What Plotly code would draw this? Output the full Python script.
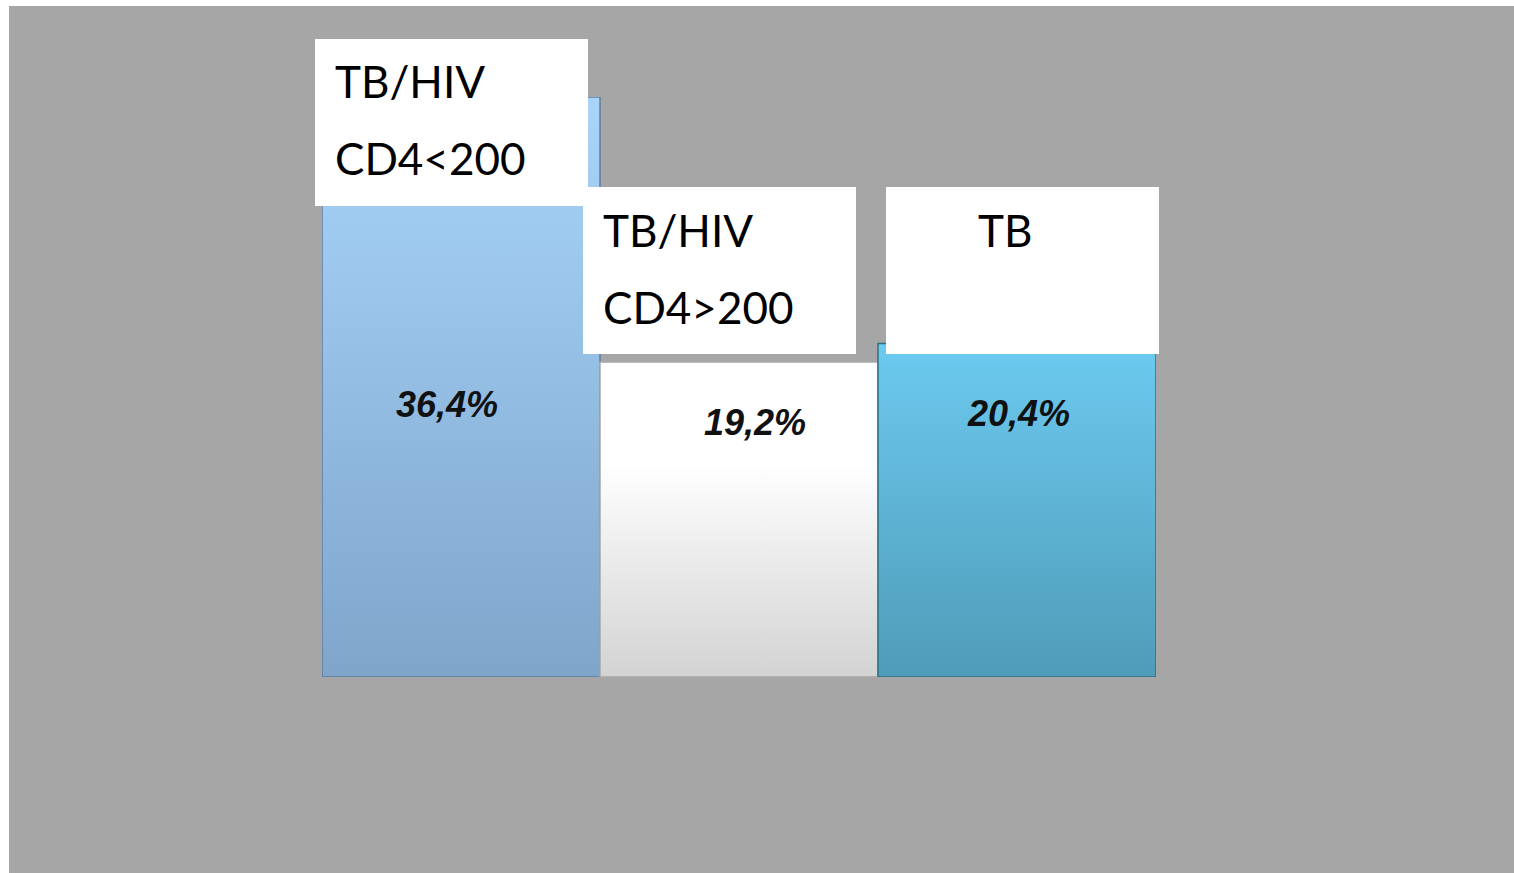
import plotly.graph_objects as go

# data
categories = ["TB/HIV CD4<200", "TB/HIV CD4>200", "TB"]
values = [36.4, 19.2, 20.4]
value_labels = ["36,4%", "19,2%", "20,4%"]
box_lines = [["TB/HIV", "CD4<200"], ["TB/HIV", "CD4>200"], ["TB"]]

# styling
top_colors = ["#A9D5FB", "#FFFFFF", "#6CCAF0"]
bottom_colors = ["#7FA5CB", "#D3D3D3", "#4F9CB8"]
mid_stops = [None, 0.68, None]
edge_colors = ["#5F7E9E", "#A8A8A8", "#2F6E85"]

W, H = 1514, 873
L, R, T, B = 322, 358, 97, 196
PW, PH = W - L - R, H - T - B
BASE = -1.24


def px(x):
    return (x - L) / PW


def py(y):
    return (H - B - y) / PH


fig = go.Figure()

for i, v in enumerate(values):
    if mid_stops[i] is None:
        cs = [[0, bottom_colors[i]], [1, top_colors[i]]]
    else:
        cs = [[0, bottom_colors[i]], [mid_stops[i], top_colors[i]], [1, top_colors[i]]]
    fig.add_trace(go.Scatter(
        x=[i - 0.5, i + 0.5, i + 0.5, i - 0.5, i - 0.5],
        y=[BASE, BASE, v, v, BASE],
        mode="lines",
        fill="toself",
        fillgradient=dict(type="vertical", colorscale=cs),
        line=dict(color=edge_colors[i], width=1.5),
        name=categories[i],
        hoverinfo="skip",
        showlegend=False,
    ))

shapes = [
    # gray slide background
    dict(type="rect", xref="paper", yref="paper", x0=px(9), x1=px(W), y0=py(H), y1=py(6),
         fillcolor="#A6A6A6", line=dict(width=0), layer="below"),
]

# label boxes (left, right, top, bottom in pixels)
boxes = [(315, 588, 39, 206), (583, 856, 187, 354), (886, 1159, 187, 354)]
for (x0, x1, y0, y1) in boxes:
    shapes.append(dict(type="rect", xref="paper", yref="paper",
                       x0=px(x0), x1=px(x1), y0=py(y1), y1=py(y0),
                       fillcolor="white", line=dict(width=0), layer="above"))

annotations = []
line_pos = [[(333, 81), (333, 158)], [(601, 230), (601, 307)], [(976, 230)]]
for lines, pos in zip(box_lines, line_pos):
    for txt, (x, y) in zip(lines, pos):
        annotations.append(dict(text=txt, xref="paper", yref="paper", x=px(x), y=py(y),
                                xanchor="left", yanchor="middle", showarrow=False,
                                font=dict(family="Lato", size=44, color="black")))

label_shift = [-14, 16, 1]
label_y = [404, 422, 413]
for i, lab in enumerate(value_labels):
    annotations.append(dict(text=lab, xref="x", yref="paper", x=i, y=py(label_y[i]),
                            xshift=label_shift[i], xanchor="center", yanchor="middle",
                            showarrow=False,
                            font=dict(family="Liberation Sans", size=36, color="#111111",
                                      weight="bold", style="italic")))

fig.update_layout(
    width=W, height=H,
    margin=dict(l=L, r=R, t=T, b=B),
    paper_bgcolor="white",
    plot_bgcolor="rgba(0,0,0,0)",
    shapes=shapes,
    annotations=annotations,
    showlegend=False,
)
fig.update_xaxes(range=[-0.5, 2.5], visible=False)
fig.update_yaxes(range=[BASE, 36.4], visible=False)

fig.write_html("out.html", config={"displayModeBar": False},
               post_script="document.body.style.margin='0';")
